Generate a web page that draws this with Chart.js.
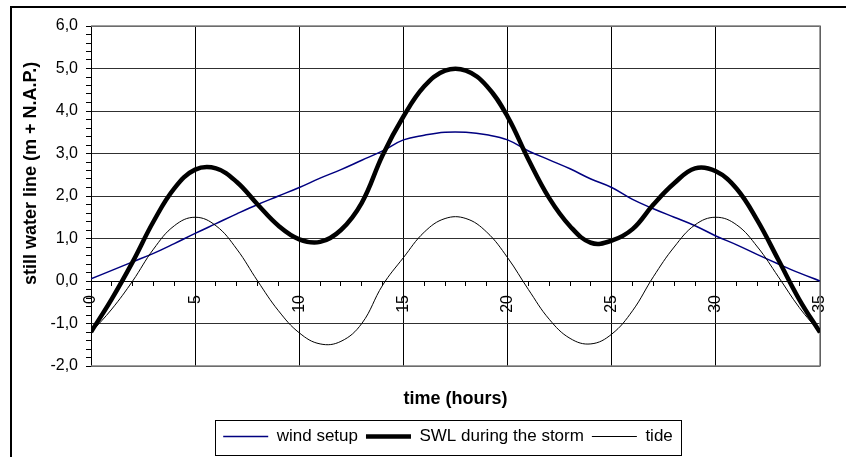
<!DOCTYPE html>
<html>
<head>
<meta charset="utf-8">
<script src="https://cdn.jsdelivr.net/npm/chart.js@4.4.1/dist/chart.umd.min.js"></script>
<style>
    html, body { margin: 0; padding: 0; background: #fff; }
    #wrap { position: relative; width: 846px; height: 457px; overflow: hidden; }
    #frame { position: absolute; left: 10px; top: 6px; width: 900px; height: 500px;
             border-left: 2px solid #000; border-top: 2px solid #000; }
    #waterChart { position: absolute; left: 0; top: 0; }
</style>
</head>
<body>
<div id="wrap">
    <div id="frame"></div>
    <canvas id="waterChart" width="846" height="457"></canvas>
</div>
<script>
// data, one value per hour
const hours = [0, 1, 2, 3, 4, 5, 6, 7, 8, 9, 10, 11, 12, 13, 14, 15, 16, 17,
               18, 19, 20, 21, 22, 23, 24, 25, 26, 27, 28, 29, 30, 31, 32, 33, 34, 35];
const windSetup = [0.05, 0.25, 0.45, 0.65, 0.88, 1.12, 1.35, 1.58, 1.8, 2.0, 2.2, 2.42,
                   2.62, 2.84, 3.06, 3.32, 3.43, 3.5, 3.5, 3.44, 3.32, 3.06, 2.85, 2.64,
                   2.4, 2.2, 1.92, 1.7, 1.5, 1.3, 1.06, 0.85, 0.62, 0.4, 0.19, 0.0];
const swlStorm = [-1.2, -0.42, 0.45, 1.4, 2.18, 2.62, 2.65, 2.33, 1.8, 1.3, 0.98, 0.92,
                  1.2, 1.84, 2.96, 3.87, 4.58, 4.95, 4.95, 4.59, 3.87, 2.86, 1.95, 1.29,
                  0.9, 0.95, 1.22, 1.8, 2.3, 2.65, 2.58, 2.17, 1.42, 0.5, -0.43, -1.21];
const tide = [-1.21, -0.66, 0.0, 0.75, 1.3, 1.5, 1.3, 0.75, 0.0, -0.7, -1.22, -1.48,
              -1.42, -1.0, -0.1, 0.55, 1.15, 1.47, 1.47, 1.15, 0.55, -0.2, -0.9, -1.35,
              -1.48, -1.25, -0.7, 0.1, 0.8, 1.32, 1.5, 1.32, 0.8, 0.1, -0.62, -1.21];
const seriesNames = ['wind setup', 'SWL during the storm', 'tide'];
const xTicks = [0, 5, 10, 15, 20, 25, 30, 35];
const yTicks = [-2, -1, 0, 1, 2, 3, 4, 5, 6];

const FONT = "'Liberation Sans', Arial, sans-serif";
const toPts = arr => hours.map((h, i) => ({ x: h, y: arr[i] }));

// gray plot border (top, right, bottom) + shifted legend with a frame
const plotFrame = {
    id: 'plotFrame',
    afterLayout(chart) {
        const lg = chart.legend;
        lg.left += 38;
        lg.right += 38;
    },
    beforeDatasetsDraw(chart) {
        const { ctx, chartArea: a } = chart;
        ctx.save();
        ctx.strokeStyle = '#808080';
        ctx.lineWidth = 1.5;
        ctx.beginPath();
        ctx.moveTo(a.left, a.top);
        ctx.lineTo(a.right, a.top);
        ctx.lineTo(a.right, a.bottom);
        ctx.lineTo(a.left, a.bottom);
        ctx.stroke();
        ctx.restore();
    },
    afterDraw(chart) {
        const lg = chart.legend;
        const pad = lg.options.labels.padding;
        const lw = lg.lineWidths[0];
        const startX = (lg.left + pad + lg.right - lw) / 2;
        const ctx = chart.ctx;
        ctx.save();
        ctx.strokeStyle = '#000';
        ctx.lineWidth = 1;
        ctx.strokeRect(Math.round(startX - 8) + 0.5, Math.round(lg.top) + 0.5,
                       Math.round(lw - pad + 16), 35);
        ctx.restore();
    }
};

const ctx = document.getElementById('waterChart').getContext('2d');
new Chart(ctx, {
    type: 'line',
    data: {
        datasets: [
            { label: seriesNames[0], data: toPts(windSetup), borderColor: '#000080',
              borderWidth: 1.5, pointRadius: 0, order: 2, tension: 0.4 },
            { label: seriesNames[1], data: toPts(swlStorm), borderColor: '#000',
              borderWidth: 4.5, pointRadius: 0, order: 0, tension: 0.4 },
            { label: seriesNames[2], data: toPts(tide), borderColor: '#000',
              borderWidth: 1, pointRadius: 0, order: 1, tension: 0.4 }
        ]
    },
    options: {
        responsive: false,
        animation: false,
        layout: { padding: { top: 26, right: 26, bottom: 2, left: 0 } },
        plugins: {
            tooltip: { enabled: false },
            legend: {
                position: 'bottom',
                labels: {
                    usePointStyle: true, pointStyle: 'line', pointStyleWidth: 45,
                    padding: 8, color: '#000',
                    font: { family: FONT, size: 17 },
                    sort: (a, b) => a.datasetIndex - b.datasetIndex
                }
            }
        },
        scales: {
            x: {
                type: 'linear', min: 0, max: 35,
                position: { y: 0 },
                border: { display: true, color: '#000', width: 1 },
                grid: {
                    color: c => xTicks.includes(c.tick.value) ? '#000' : 'transparent',
                    tickColor: '#000', tickLength: 4, lineWidth: 1
                },
                ticks: {
                    stepSize: 1, autoSkip: false, minRotation: 90, maxRotation: 90,
                    padding: 10, color: '#000', font: { family: FONT, size: 16 },
                    callback: v => xTicks.includes(v) ? String(v) : ''
                },
                afterFit: s => { s.paddingLeft = 0; s.paddingRight = 0; }
            },
            x2: {
                type: 'linear', min: 0, max: 35, position: 'bottom',
                grid: { display: false }, border: { display: false },
                ticks: { display: false },
                title: { display: true, text: 'time (hours)', color: '#000',
                         font: { family: FONT, size: 18, weight: 'bold' },
                         padding: { top: 0, bottom: 10 } },
                afterFit: s => { s.height = 54; }
            },
            y: {
                min: -2, max: 6,
                border: { display: true, color: '#000', width: 1 },
                grid: {
                    color: c => yTicks.includes(c.tick.value) ? '#303030' : 'transparent',
                    tickColor: '#000', tickLength: 5, lineWidth: 1
                },
                ticks: {
                    stepSize: 0.2, autoSkip: false, padding: 8, color: '#000',
                    font: { family: FONT, size: 16 },
                    callback: v => yTicks.includes(v) ? v.toFixed(1).replace('.', ',') : ''
                },
                title: { display: true, text: '         still water line (m + N.A.P.)',
                         color: '#000', font: { family: FONT, size: 18, weight: 'bold' },
                         padding: { top: 20, bottom: 0 } },
                afterFit: s => { s.width = 91; }
            }
        }
    },
    plugins: [plotFrame]
});
</script>
</body>
</html>
